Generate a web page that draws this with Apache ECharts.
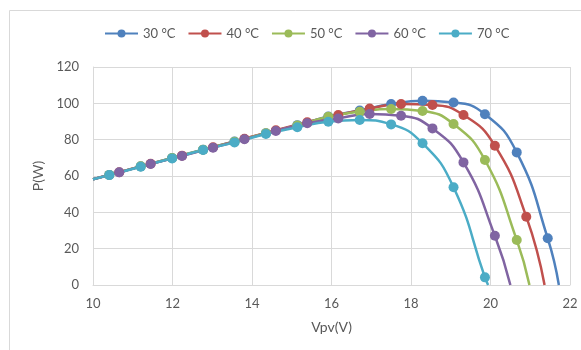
<!DOCTYPE html>
<html>
<head>
<meta charset="utf-8">
<script src="https://cdn.jsdelivr.net/npm/echarts@6/dist/echarts.min.js"></script>
<style>
  html, body { margin: 0; padding: 0; background: #fff; }
  #chart { width: 581px; height: 350px; }
</style>
</head>
<body>
<div id="chart"></div>
<script>
// series names
const seriesNames = ["30 °C", "40 °C", "50 °C", "60 °C", "70 °C"];
const seriesColors = ["#4F81BD", "#C0504D", "#9BBB59", "#8064A2", "#4BACC6"];

// first and last point of each list only carry the line (no marker)
const volt30 = [10, 10.41, 11.20, 11.99, 12.77, 13.56, 14.35, 15.14, 15.92, 16.71, 17.50, 18.29, 19.07, 19.86, 20.66, 21.44, 21.72];
const power30 = [58.2, 60.6, 65.3, 69.9, 74.5, 79.0, 83.6, 88.0, 92.8, 96.0, 99.6, 101.4, 100.5, 94.0, 73.0, 25.7, 0];

const volt40 = [10, 10.66, 11.45, 12.24, 13.02, 13.81, 14.60, 15.39, 16.17, 16.96, 17.75, 18.54, 19.32, 20.11, 20.90, 21.36];
const power40 = [58.2, 62.1, 66.7, 71.2, 75.8, 80.5, 85.2, 89.6, 93.6, 97.2, 99.6, 99.1, 93.6, 76.7, 37.6, 0];

const volt50 = [10, 10.41, 11.20, 11.99, 12.77, 13.56, 14.35, 15.14, 15.92, 16.71, 17.50, 18.29, 19.07, 19.86, 20.66, 20.98];
const power50 = [58.2, 60.6, 65.3, 69.9, 74.5, 78.9, 83.5, 87.8, 92.6, 95.4, 96.9, 95.8, 88.6, 68.8, 24.8, 0];

const volt60 = [10, 10.66, 11.45, 12.24, 13.02, 13.81, 14.60, 15.39, 16.17, 16.96, 17.75, 18.54, 19.32, 20.11, 20.50];
const power60 = [58.2, 62.0, 66.6, 71.0, 75.6, 80.2, 84.8, 89.0, 91.7, 94.1, 93.2, 86.2, 67.5, 27.1, 0];

const volt70 = [10, 10.41, 11.20, 11.99, 12.77, 13.56, 14.35, 15.14, 15.92, 16.71, 17.50, 18.29, 19.07, 19.86, 19.94];
const power70 = [58.2, 60.5, 65.1, 69.7, 74.3, 78.5, 83.1, 86.8, 89.9, 90.8, 88.4, 78.0, 53.8, 4.2, 0];

const volts = [volt30, volt40, volt50, volt60, volt70];
const powers = [power30, power40, power50, power60, power70];

const FONT = "Lato";
const TEXT = "#595959";
const GRID = "#d9d9d9";

function buildData(xs, ys) {
  return xs.map((x, i) => {
    const item = { value: [x, ys[i]] };
    if (i === 0 || i === xs.length - 1) item.symbol = "none";
    return item;
  });
}

const chart = echarts.init(document.getElementById("chart"));
const option = {
  animation: false,
  textStyle: { fontFamily: FONT },
  color: seriesColors,
  graphic: [
    {
      type: "polyline",
      shape: { points: [[9.5, 350], [9.5, 10.5], [581, 10.5]] },
      style: { stroke: GRID, lineWidth: 1, fill: null },
      silent: true,
    },
  ],
  legend: {
    top: 22,
    left: 99,
    itemWidth: 33,
    itemHeight: 10,
    itemGap: 12,
    textStyle: { color: TEXT, fontSize: 13, fontFamily: FONT },
    data: seriesNames,
  },
  grid: {
    left: 93,
    right: 11,
    top: 67,
    bottom: 65,
  },
  xAxis: {
    type: "value",
    min: 10,
    max: 22,
    interval: 2,
    name: "Vpv(V)",
    nameLocation: "middle",
    nameGap: 35,
    nameTextStyle: { color: TEXT, fontSize: 14, fontFamily: FONT },
    axisLine: { lineStyle: { color: GRID } },
    axisTick: { show: false },
    axisLabel: { color: TEXT, fontSize: 13, margin: 12, fontFamily: FONT },
    splitLine: { show: true, lineStyle: { color: GRID, width: 1 } },
  },
  yAxis: {
    type: "value",
    min: 0,
    max: 120,
    interval: 20,
    name: "P(W)",
    nameLocation: "middle",
    nameGap: 36,
    nameTextStyle: { color: TEXT, fontSize: 14, fontFamily: FONT },
    axisLine: { show: true, lineStyle: { color: GRID } },
    axisTick: { show: false },
    axisLabel: { color: TEXT, fontSize: 13, margin: 14, fontFamily: FONT },
    splitLine: { show: true, lineStyle: { color: GRID, width: 1 } },
  },
  series: seriesNames.map((name, k) => ({
    name: name,
    type: "line",
    smooth: 0.5,
    symbol: "circle",
    symbolSize: 10,
    showSymbol: true,
    lineStyle: { width: 2.5, color: seriesColors[k] },
    itemStyle: { color: seriesColors[k] },
    data: buildData(volts[k], powers[k]),
  })),
};
chart.setOption(option);
</script>
</body>
</html>
